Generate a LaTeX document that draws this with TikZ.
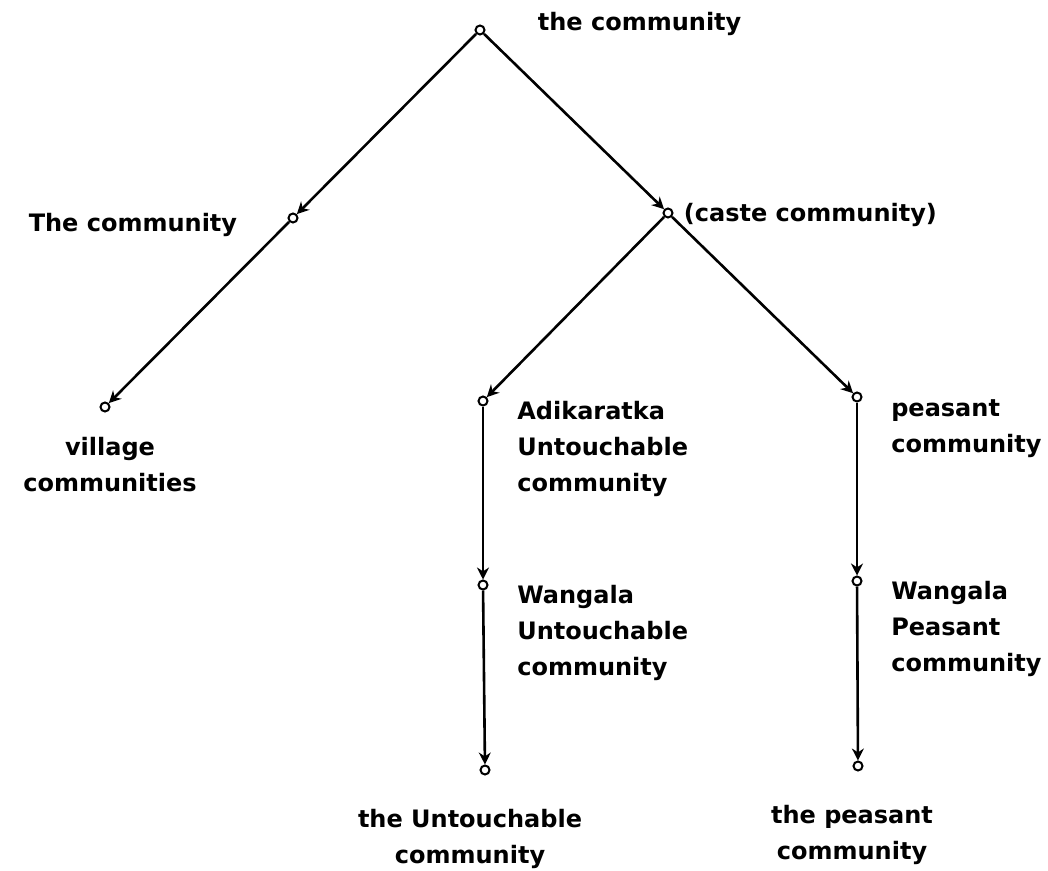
\documentclass[tikz,border=0pt]{standalone}
\usepackage{fontspec}
\setmainfont{DejaVu Sans}
\usepackage{tikz}
\usetikzlibrary{positioning,arrows.meta}

\begin{document}
\begin{tikzpicture}[x=0.5pt, y=-0.5pt,
          dot/.style={circle, draw, line width=1pt, inner sep=0pt,
                      minimum size=4.5pt, fill=white},
          lbl/.style={inner sep=0pt, align=left,
                      font=\fontsize{12}{18}\selectfont\bfseries},
          arr/.style={-{Stealth[length=6pt, width=6pt]}, line width=1.3pt}]
          \useasboundingbox (0,0) rectangle (1048,871);
          % nodes of the tree
          \node[dot] (root) at (480,30) {};
          \node[dot] (vc) at (293,218) {};
          \node[dot] (cc) at (668,213) {};
          \node[dot] (vil) at (105,407) {};
          \node[dot] (adi) at (483,401) {};
          \node[dot] (pea) at (857,397) {};
          \node[dot] (wu) at (483,585) {};
          \node[dot] (wp) at (857,581) {};
          \node[dot] (tu) at (485,770) {};
          \node[dot] (tp) at (858,766) {};
          % labels
          \node[lbl, right=26pt of root, yshift=3pt] (rootlbl) {the community};
          \node[lbl, left=25pt of vc, yshift=-3.5pt] (vclbl) {The community};
          \node[lbl, right=5pt of cc, yshift=-1pt] (cclbl) {(caste community)};
          \node[lbl, align=center, below=12pt of vil, xshift=2.5pt] (villbl) {village\\communities};
          \node[lbl, right=15pt of adi.north east, anchor=north west, yshift=-2pt] (adilbl) {Adikaratka\\Untouchable\\community};
          \node[lbl, right=15pt of pea.north east, anchor=north west, yshift=-3pt] (pealbl) {peasant\\community};
          \node[lbl, right=15pt of wu.north east, anchor=north west, yshift=-2pt] (wulbl) {Wangala\\Untouchable\\community};
          \node[lbl, right=15pt of wp.north east, anchor=north west, yshift=-2pt] (wplbl) {Wangala\\Peasant\\community};
          \node[lbl, align=center, below=16.5pt of tu, xshift=-7.5pt] (tulbl) {the Untouchable\\community};
          \node[lbl, align=center, below=16.5pt of tp, xshift=-3pt] (tplbl) {the peasant\\community};
          % connectors
          \draw[arr] (root)--(vc); \draw[arr] (root)--(cc);
          \draw[arr] (vc)--(vil);
          \draw[arr] (cc)--(adi); \draw[arr] (cc)--(pea);
          \draw[arr] (adi)--(wu); \draw[arr] (wu)--(tu);
          \draw[arr] (pea)--(wp); \draw[arr] (wp)--(tp);
        \end{tikzpicture}
\end{document}
